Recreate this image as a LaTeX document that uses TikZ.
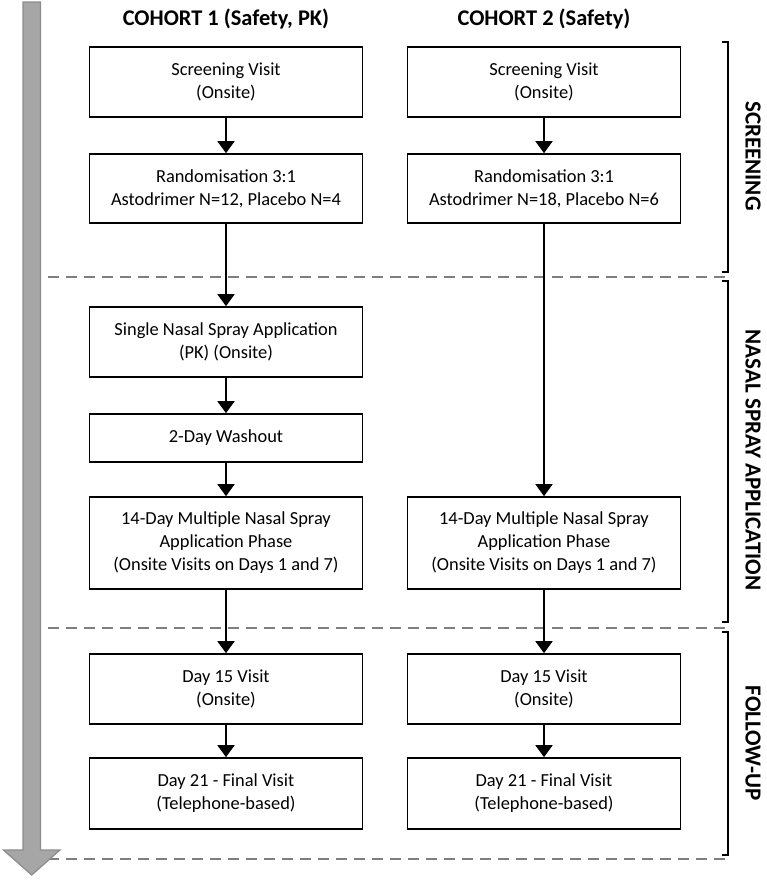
\documentclass[tikz,border=0pt]{standalone}
\usepackage{fontspec}
\setmainfont{Carlito}
\usetikzlibrary{arrows.meta}
\definecolor{bigarrow}{HTML}{A6A6A6}
\definecolor{bigarrowline}{HTML}{8C8C8C}
\definecolor{dashgray}{HTML}{7F7F7F}
\begin{document}
\begin{tikzpicture}[x=1pt,y=-1pt,
  box/.style={draw=black,line width=1.6pt,minimum width=273pt,align=center,inner sep=2pt,
    font=\fontsize{18.4}{23}\selectfont},
  flow/.style={line width=1.6pt,-{Triangle[width=17pt,length=12pt]}},
  sepline/.style={draw=dashgray,line width=2.6pt,dash pattern=on 11pt off 7pt},
  brace/.style={line width=1.6pt},
  phase/.style={font=\fontsize{23}{26}\selectfont\bfseries,rotate=-90},
  header/.style={font=\fontsize{22.4}{26}\selectfont\bfseries}
]
\useasboundingbox (0,0) rectangle (767,881);

% phase separators
\draw[sepline] (30,277) -- (727,277);
\draw[sepline] (30,628) -- (727,628);
\draw[sepline] (30,859) -- (727,859);

% timeline arrow
\draw[fill=bigarrow,draw=bigarrowline,line width=1.2pt,line join=miter]
  (23,2) -- (40.5,2) -- (40.5,850) -- (60,850) -- (31.7,875) -- (3.4,850) -- (23,850) -- cycle;

% headers
\node[header] (h1) at (226,19) {COHORT 1 (Safety, PK)};
\node[header] (h2) at (544,19) {COHORT 2 (Safety)};

% cohort 1
\node[box,minimum height=70pt] (a1) at (226,82) {Screening Visit\\(Onsite)};
\node[box,minimum height=69pt] (a2) at (226,188.5) {Randomisation 3:1\\Astodrimer N=12, Placebo N=4};
\node[box,minimum height=70pt] (a3) at (226,342) {Single Nasal Spray Application\\(PK) (Onsite)};
\node[box,minimum height=48pt] (a4) at (226,438) {2-Day Washout};
\node[box,minimum height=92pt] (a5) at (226,543) {14-Day Multiple Nasal Spray\\Application Phase\\(Onsite Visits on Days 1 and 7)};
\node[box,minimum height=70pt] (a6) at (226,689) {Day 15 Visit\\(Onsite)};
\node[box,minimum height=71pt] (a7) at (226,793.5) {Day 21 - Final Visit\\(Telephone-based)};

% cohort 2
\node[box,minimum height=70pt] (b1) at (544,82) {Screening Visit\\(Onsite)};
\node[box,minimum height=69pt] (b2) at (544,188.5) {Randomisation 3:1\\Astodrimer N=18, Placebo N=6};
\node[box,minimum height=92pt] (b5) at (544,543) {14-Day Multiple Nasal Spray\\Application Phase\\(Onsite Visits on Days 1 and 7)};
\node[box,minimum height=70pt] (b6) at (544,689) {Day 15 Visit\\(Onsite)};
\node[box,minimum height=71pt] (b7) at (544,793.5) {Day 21 - Final Visit\\(Telephone-based)};

% connectors
\draw[flow] (a1) -- (a2);
\draw[flow] (a2) -- (a3);
\draw[flow] (a3) -- (a4);
\draw[flow] (a4) -- (a5);
\draw[flow] (a5) -- (a6);
\draw[flow] (a6) -- (a7);
\draw[flow] (b1) -- (b2);
\draw[flow] (b2) -- (b5);
\draw[flow] (b5) -- (b6);
\draw[flow] (b6) -- (b7);

% phase brackets
\draw[brace] (722,42) -- (728,42) -- (728,272) -- (722,272);
\draw[brace] (722,281) -- (728,281) -- (728,622) -- (722,622);
\draw[brace] (722,632) -- (728,632) -- (728,855) -- (722,855);

\node[phase] (p1) at (753,156) {SCREENING};
\node[phase] (p2) at (753,460) {NASAL SPRAY APPLICATION};
\node[phase] (p3) at (753,743) {FOLLOW-UP};
\end{tikzpicture}
\end{document}
